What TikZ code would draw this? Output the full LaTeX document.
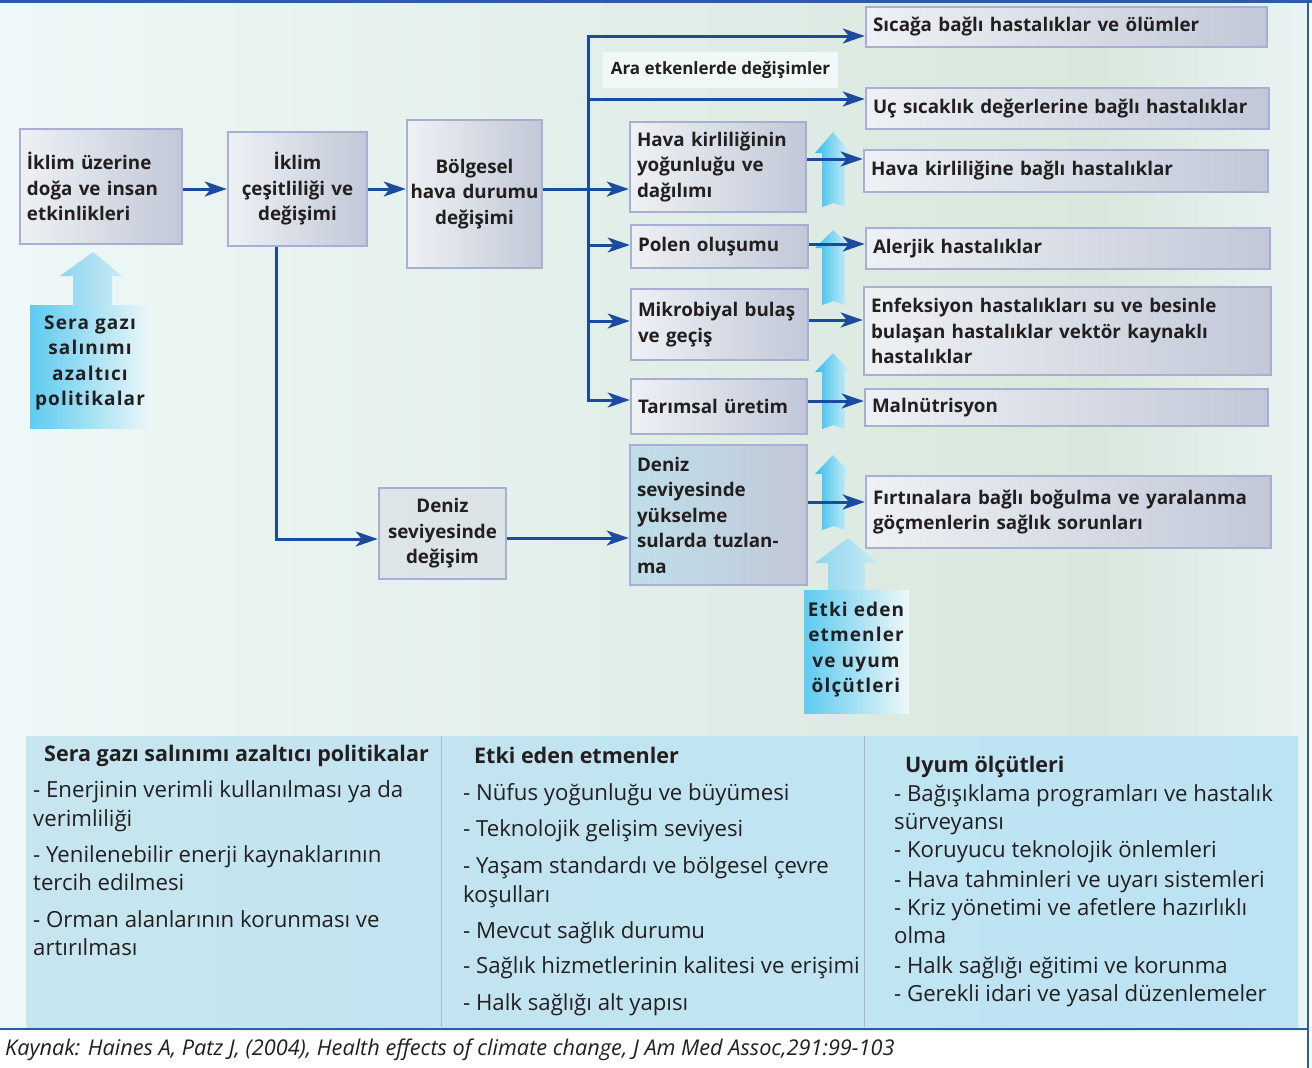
\documentclass[tikz,border=0pt]{standalone}
\usepackage{fontspec}
\setmainfont{Open Sans}
\usetikzlibrary{arrows.meta}
\definecolor{arrowblue}{HTML}{1A4B9E}
\definecolor{frameblue}{HTML}{2A5CA8}
\definecolor{boxborder}{HTML}{A9AFD2}
\definecolor{boxL}{HTML}{EEF1F4}
\definecolor{boxR}{HTML}{C2C8D8}
\definecolor{boxB}{HTML}{BEDFE9}
\definecolor{boxG}{HTML}{DDE5E8}
\definecolor{bgL}{HTML}{EEF8F8}
\definecolor{bgM}{HTML}{D9E7DD}
\definecolor{bgR}{HTML}{E9F4F3}
\definecolor{cyanL}{HTML}{2FBDEC}
\definecolor{cyanR}{HTML}{DDF2F9}
\definecolor{bodyL}{HTML}{5ECBF0}
\definecolor{bodyR}{HTML}{EEF7F8}
\definecolor{headL}{HTML}{8ED5F0}
\definecolor{headR}{HTML}{C8EBF5}
\definecolor{panelL}{HTML}{C6E5EF}
\definecolor{panelM}{HTML}{D2E8EB}
\definecolor{panelR}{HTML}{BCE3F3}
\definecolor{divider}{HTML}{A3B7D8}
\definecolor{arafill}{HTML}{F1F9F8}
\definecolor{txt}{HTML}{231F20}
\begin{document}
\begin{tikzpicture}[x=1pt,y=-1pt,
  every node/.append style={execute at begin node={\hyphenpenalty=10000 \exhyphenpenalty=10000}},
  abox/.style={draw=boxborder,line width=2.5pt,left color=boxL,right color=boxR,
    inner xsep=7pt,inner ysep=0pt,font=\bfseries\fontsize{18.8}{25.5}\selectfont,text=txt},
  lbox/.style={abox,align=left},
  cbox/.style={abox,align=center},
  conn/.style={draw=arrowblue,line width=3pt,-{Stealth[length=22pt,width=15pt,inset=6pt]}},
  wire/.style={draw=arrowblue,line width=3pt,line cap=rect},
  lst/.style={anchor=base west,inner sep=0pt,font=\fontsize{22.2}{26}\selectfont,text=txt},
  hd/.style={anchor=base west,inner sep=0pt,font=\bfseries\fontsize{21.5}{26}\selectfont,text=txt},
  upar/.style={left color=cyanL,right color=cyanR},
  bigtxt/.style={align=center,inner sep=0pt,text=txt,
    font=\bfseries\fontsize{19}{25.5}\selectfont\addfontfeature{LetterSpace=6}}
]
\useasboundingbox (0,0) rectangle (1312,1068);
% background
\fill[white] (0,0) rectangle (1312,1068);
\shade[left color=bgL,right color=bgM] (0,0) rectangle (1100,1030);
\shade[left color=bgM,right color=bgR] (1099.5,0) rectangle (1308,1030);
% bottom panel
\shade[left color=panelL,middle color=panelM,right color=panelR] (26,736) rectangle (1298,1027);
\draw[divider,line width=1pt] (441,736) -- (441,1027);
\draw[divider,line width=1pt] (864,736) -- (864,1027);
% frame
\draw[frameblue,line width=2.5pt] (0,1.3) -- (1312,1.3);
\draw[frameblue,line width=2pt] (0,1029) -- (1308,1029);
\draw[frameblue,line width=2pt] (1307.5,0) -- (1307.5,1068);

% small up arrows
\shade[upar] (833,132) -- (851,153) -- (845,153) -- (845,207) -- (834,203) -- (822,207) -- (822,153) -- (815,153) -- cycle;
\shade[upar] (833,230) -- (851,248) -- (845,248) -- (845,305) -- (834,301) -- (822,305) -- (822,248) -- (815,248) -- cycle;
\shade[upar] (833,353) -- (851,372) -- (845,372) -- (845,429) -- (834,425) -- (822,429) -- (822,372) -- (815,372) -- cycle;
\shade[upar] (833,455) -- (851,474) -- (845,474) -- (845,530) -- (834,526) -- (822,530) -- (822,474) -- (815,474) -- cycle;

% big arrows
\shade[left color=headL,right color=headR] (93,252) -- (122,276) -- (112,276) -- (112,306) -- (73,306) -- (73,276) -- (60,276) -- cycle;
\shade[left color=bodyL,right color=bodyR] (30,305) rectangle (152,428);
\node[bigtxt] (seratxt) at (90,363) {Sera gazı\\salınımı\\azaltıcı\\politikalar};
\shade[left color=headL,right color=headR] (848,538) -- (878,563) -- (865,563) -- (865,591) -- (828,591) -- (828,563) -- (815,563) -- cycle;
\shade[left color=bodyL,right color=bodyR] (804,590) rectangle (909,713);
\node[bigtxt] (etkitxt) at (856,649.5) {Etki eden\\etmenler\\ve uyum\\ölçütleri};

% left boxes
\node[lbox,minimum width=162pt,minimum height=115pt,text width=148pt] (b1) at (101,186.5) {İklim üzerine\\doğa ve insan\\etkinlikleri};
\node[cbox,minimum width=139pt,minimum height=114pt,text width=125pt] (b2) at (297.5,189) {İklim\\çeşitliliği ve\\değişimi};
\node[cbox,inner xsep=2pt,minimum width=135pt,minimum height=148pt,text width=131pt] (b3) at (474.5,194) {Bölgesel\\hava durumu\\değişimi};
\node[lbox,minimum width=176pt,minimum height=90pt,text width=162pt] (b4) at (718,167) {Hava kirliliğinin\\yoğunluğu ve\\dağılımı};
\node[lbox,minimum width=177pt,minimum height=43pt,text width=163pt] (b5) at (719.5,246.5) {Polen oluşumu};
\node[lbox,minimum width=177pt,minimum height=71pt,text width=163pt] (b6) at (719.5,324.5) {Mikrobiyal bulaş\\ve geçiş};
\node[lbox,minimum width=176pt,minimum height=55pt,text width=162pt] (b7) at (719,406.5) {Tarımsal üretim};
\node[lbox,left color=boxB,minimum width=177pt,minimum height=140pt,text width=163pt] (b8) at (718.5,515) {Deniz\\seviyesinde\\yükselme\\sularda tuzlan-\\ma};
\node[cbox,inner xsep=4pt,left color=boxG,right color=boxG!92!boxR,minimum width=127pt,minimum height=91pt,text width=119pt] (b9) at (442.5,533.5) {Deniz\\seviyesinde\\değişim};

% right boxes
\node[lbox,minimum width=401pt,minimum height=40pt,text width=387pt] (r1) at (1066.5,27) {Sıcağa bağlı hastalıklar ve ölümler};
\node[lbox,minimum width=403pt,minimum height=41pt,text width=389pt] (r2) at (1067.5,108.5) {Uç sıcaklık değerlerine bağlı hastalıklar};
\node[lbox,minimum width=404pt,minimum height=42pt,text width=390pt] (r3) at (1066,171) {Hava kirliliğine bağlı hastalıklar};
\node[lbox,minimum width=404pt,minimum height=41pt,text width=390pt] (r4) at (1068,248.5) {Alerjik hastalıklar};
\node[lbox,minimum width=407pt,minimum height=88pt,text width=393pt] (r5) at (1067.5,331) {Enfeksiyon hastalıkları su ve besinle\\bulaşan hastalıklar vektör kaynaklı\\hastalıklar};
\node[lbox,minimum width=403pt,minimum height=37pt,text width=389pt] (r6) at (1066.5,407.5) {Malnütrisyon};
\node[lbox,minimum width=405pt,minimum height=72pt,text width=391pt] (r7) at (1068.5,512) {Fırtınalara bağlı boğulma ve yaralanma\\göçmenlerin sağlık sorunları};

\node[fill=arafill,minimum width=235pt,minimum height=36pt,inner sep=0pt,text=txt,
  font=\bfseries\fontsize{17}{20}\selectfont] (ara) at (720.5,70) {Ara etkenlerde değişimler};

% connectors
\draw[conn] (b1.east |- b2.center) -- (b2.west);
\draw[conn] (b2.east) -- (b2.east -| b3.west);
\coordinate (t1) at (588,36);
\coordinate (t2) at (588,99);
\coordinate (t4) at (588,189);
\coordinate (t5) at (588,245);
\coordinate (t6) at (588,321);
\coordinate (t7) at (588,400);
\draw[wire] (t1) -- (t7);
\draw[conn] (b3.east |- t4) -- (b4.west |- t4);
\draw[conn] (t1) -- (r1.west |- t1);
\draw[conn] (t2) -- (r2.west |- t2);
\draw[conn] (t5) -- (b5.west |- t5);
\draw[conn] (t6) -- (b6.west |- t6);
\draw[conn] (t7) -- (b7.west |- t7);
\draw[conn] (b4.east |- 0,159) -- (r3.west |- 0,159);
\draw[conn] (b5.east |- 0,244) -- (r4.west |- 0,244);
\draw[conn] (b6.east |- 0,320) -- (r5.west |- 0,320);
\draw[conn] (b7.east |- 0,401) -- (r6.west |- 0,401);
\draw[conn] (b8.east |- 0,502) -- (r7.west |- 0,502);
\coordinate (dn) at (276,539);
\draw[conn] (b2.south -| dn) -- (dn) -- (b9.west |- dn);
\draw[conn] (b9.east |- 0,538) -- (b8.west |- 0,538);

% bottom panel texts
\node[hd] (h1) at (44,761) {Sera gazı salınımı azaltıcı politikalar};
\node[lst] (p1) at (33,797) {- Enerjinin verimli kullanılması ya da};
\node[lst] (p2) at (33,826) {verimliliği};
\node[lst] (p3) at (33,862) {- Yenilenebilir enerji kaynaklarının};
\node[lst] (p4) at (33,890) {tercih edilmesi};
\node[lst] (p5) at (33,927) {- Orman alanlarının korunması ve};
\node[lst] (p6) at (33,955) {artırılması};

\node[hd] (h2) at (474,763) {Etki eden etmenler};
\node[lst] (e1) at (463,800) {- Nüfus yoğunluğu ve büyümesi};
\node[lst] (e2) at (463,836) {- Teknolojik gelişim seviyesi};
\node[lst] (e3) at (463,873) {- Yaşam standardı ve bölgesel çevre};
\node[lst] (e4) at (463,902) {koşulları};
\node[lst] (e5) at (463,938) {- Mevcut sağlık durumu};
\node[lst] (e6) at (463,973) {- Sağlık hizmetlerinin kalitesi ve erişimi};
\node[lst] (e7) at (463,1010) {- Halk sağlığı alt yapısı};

\node[hd] (h3) at (905,772) {Uyum ölçütleri};
\node[lst] (u1) at (894,801) {- Bağışıklama programları ve hastalık};
\node[lst] (u2) at (894,829) {sürveyansı};
\node[lst] (u3) at (894,857) {- Koruyucu teknolojik önlemleri};
\node[lst] (u4) at (894,887) {- Hava tahminleri ve uyarı sistemleri};
\node[lst] (u5) at (894,915) {- Kriz yönetimi ve afetlere hazırlıklı};
\node[lst] (u6) at (894,943) {olma};
\node[lst] (u7) at (894,973) {- Halk sağlığı eğitimi ve korunma};
\node[lst] (u8) at (894,1001) {- Gerekli idari ve yasal düzenlemeler};

\node[anchor=base west,inner sep=0pt,text=txt,font=\itshape\fontsize{21.7}{24}\selectfont] (cap) at (5,1055) {Kaynak: Haines A, Patz J, (2004), Health effects of climate change, J Am Med Assoc,291:99-103};
\end{tikzpicture}
\end{document}
